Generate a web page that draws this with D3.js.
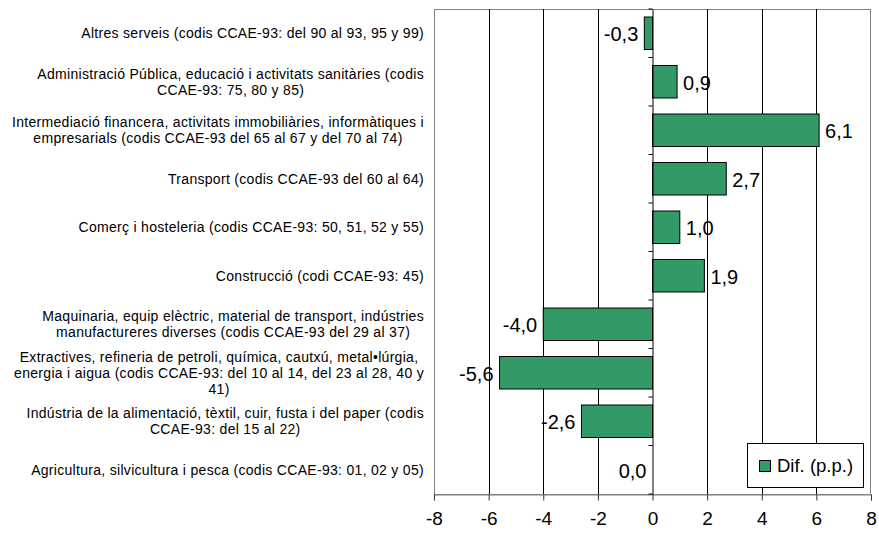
<!DOCTYPE html>
<html><head><meta charset="utf-8">
<script src="https://cdn.jsdelivr.net/npm/d3@7"></script>
<style>body{margin:0;background:#fff}svg{display:block}text{font-family:"Liberation Sans",Arial,sans-serif}</style>
</head><body>
<svg id="c" width="879" height="535"></svg>
<script>
const categories = [
  ["Altres serveis (codis CCAE-93: del 90 al 93, 95 y 99)"],
  ["Administració Pública, educació i activitats sanitàries (codis", "CCAE-93: 75, 80 y 85)"],
  ["Intermediació financera, activitats immobiliàries, informàtiques i", "empresarials (codis CCAE-93 del 65 al 67 y del 70 al 74)"],
  ["Transport (codis CCAE-93 del 60 al 64)"],
  ["Comerç i hosteleria (codis CCAE-93: 50, 51, 52 y 55)"],
  ["Construcció (codi CCAE-93: 45)"],
  ["Maquinaria, equip elèctric, material de transport, indústries", "manufactureres diverses (codis CCAE-93 del 29 al 37)"],
  ["Extractives, refineria de petroli, química, cautxú, metal•lúrgia,", "energia i aigua (codis CCAE-93: del 10 al 14, del 23 al 28, 40 y", "41)"],
  ["Indústria de la alimentació, tèxtil, cuir, fusta i del paper (codis", "CCAE-93: del 15 al 22)"],
  ["Agricultura, silvicultura i pesca (codis CCAE-93: 01, 02 y 05)"]
];
const values = [-0.3, 0.9, 6.1, 2.7, 1.0, 1.9, -4.0, -5.6, -2.6, 0.0];
const xTicks = [-8, -6, -4, -2, 0, 2, 4, 6, 8];
const seriesName = "Dif. (p.p.)";

const svg = d3.select("#c");
const L = 434, R = 871, T = 9, B = 494;
const x = d3.scaleLinear().domain([-8, 8]).range([L, R]);
const ids = categories.map((d, i) => i);
const y = d3.scaleBand().domain(ids).range([T, B]).paddingInner(0.33).paddingOuter(0.165);

// plot border
svg.append("rect").attr("x", L + 0.5).attr("y", T + 0.5).attr("width", R - L - 1).attr("height", B - T)
  .attr("fill", "none").attr("stroke", "#808080").attr("stroke-width", 1);
// gridlines
svg.append("g").selectAll("line").data(xTicks.filter(t => t !== -8 && t !== 8 && t !== 0)).join("line")
  .attr("x1", d => Math.round(x(d)) + 0.5).attr("x2", d => Math.round(x(d)) + 0.5)
  .attr("y1", T).attr("y2", B).attr("stroke", "#000").attr("stroke-width", 1);

// bottom axis
const xa = svg.append("g").attr("transform", `translate(0,${B + 0.5})`)
  .call(d3.axisBottom(x).tickValues(xTicks).tickSize(6).tickFormat(d => d));
xa.select(".domain").attr("stroke", "#808080");
xa.selectAll(".tick line").attr("stroke", "#333");
xa.selectAll(".tick text").attr("font-size", 19).attr("fill", "#000").attr("y", 24).attr("dy", "0.35em")
  .attr("font-family", '"Liberation Sans",Arial,sans-serif');

// bars
svg.append("g").selectAll("rect").data(values).join("rect")
  .attr("x", d => x(Math.min(0, d))).attr("width", d => Math.abs(x(d) - x(0)))
  .attr("y", (d, i) => y(i)).attr("height", y.bandwidth())
  .attr("fill", "#339966").attr("stroke", "#000").attr("stroke-width", 1);

// zero axis
const ya = svg.append("g").attr("transform", `translate(${x(0)},0)`)
  .call(d3.axisLeft(y).tickSize(0).tickFormat(""));
ya.select(".domain").attr("stroke", "#000");
svg.append("g").selectAll("line").data(d3.range(categories.length + 1)).join("line")
  .attr("x1", x(0) - 4).attr("x2", x(0))
  .attr("y1", i => T + i * y.step()).attr("y2", i => T + i * y.step())
  .attr("stroke", "#000");

// value labels
const fmt = v => d3.format(".1f")(v).replace(".", ",").replace("−", "-");
svg.append("g").selectAll("text").data(values).join("text")
  .attr("x", d => d > 0 ? x(d) + 6 : x(d) - 6)
  .attr("y", (d, i) => y(i) + y.bandwidth() / 2 + 1)
  .attr("dy", "0.35em")
  .attr("text-anchor", d => d > 0 ? "start" : "end")
  .attr("font-size", 20).text(d => fmt(d));

// category labels
const cg = svg.append("g");
categories.forEach((lines, i) => {
  const cy = y(i) + y.bandwidth() / 2;
  const t = cg.append("text").attr("font-size", 14).attr("letter-spacing", 0.3).attr("text-anchor", "middle");
  lines.forEach((ln, j) => {
    t.append("tspan").attr("x", 0).attr("y", cy + (j - (lines.length - 1) / 2) * 16).attr("dy", "0.35em").text(ln);
  });
  const w = t.node().getBBox().width;
  t.selectAll("tspan").attr("x", 424 - w / 2);
});

// legend
const lg = svg.append("g");
lg.append("rect").attr("x", 747.5).attr("y", 443.5).attr("width", 116).attr("height", 44)
  .attr("fill", "#fff").attr("stroke", "#000");
lg.append("rect").attr("x", 759.5).attr("y", 460.5).attr("width", 11).attr("height", 11)
  .attr("fill", "#339966").attr("stroke", "#000");
lg.append("text").attr("x", 777).attr("y", 466).attr("dy", "0.35em").attr("font-size", 18.5).text(seriesName);
</script>
</body></html>
